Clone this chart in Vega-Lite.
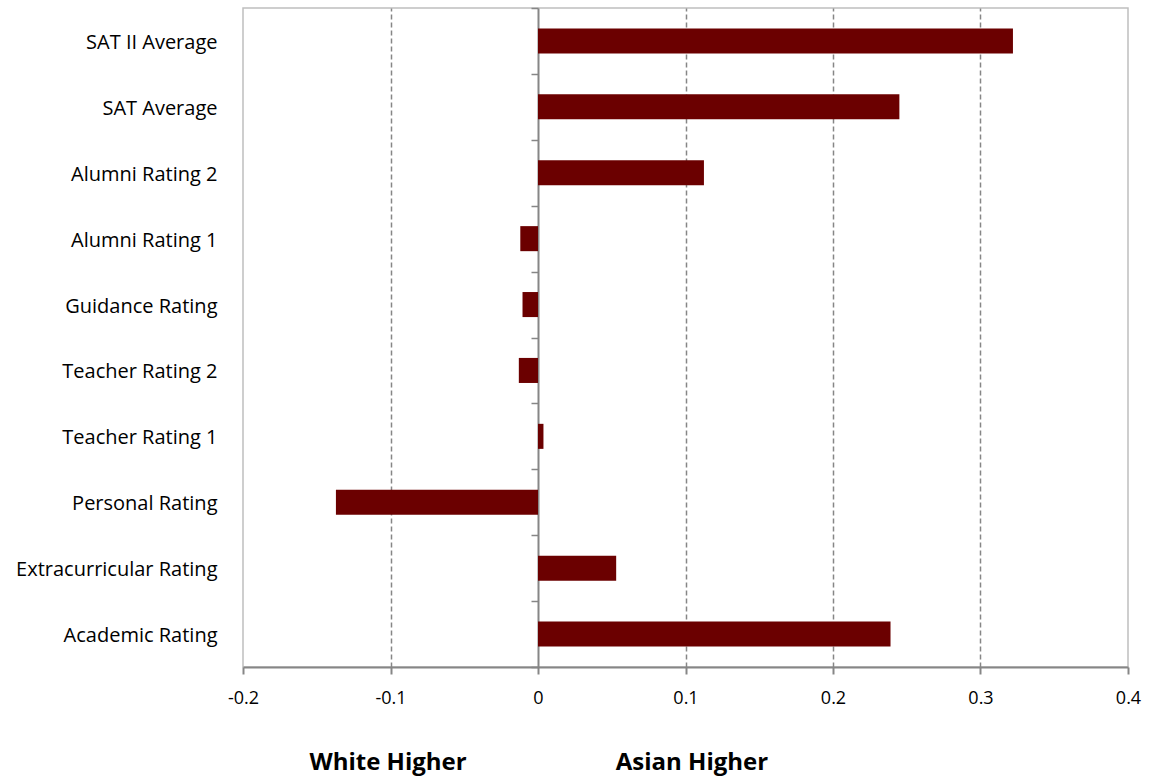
{
  "$schema": "https://vega.github.io/schema/vega-lite/v6.json",
  "width": 885,
  "height": 659,
  "autosize": "none",
  "padding": {"left": 243, "top": 8, "right": 24, "bottom": 109},
  "background": "white",
  "config": {
    "view": {"stroke": "#bfbfbf", "strokeWidth": 1.5},
    "font": "Open Sans"
  },
  "data": {
    "values": [
      {"measure": "SAT II Average", "diff": 0.322},
      {"measure": "SAT Average", "diff": 0.245},
      {"measure": "Alumni Rating 2", "diff": 0.1125},
      {"measure": "Alumni Rating 1", "diff": -0.012},
      {"measure": "Guidance Rating", "diff": -0.0105},
      {"measure": "Teacher Rating 2", "diff": -0.013},
      {"measure": "Teacher Rating 1", "diff": 0.0037},
      {"measure": "Personal Rating", "diff": -0.137},
      {"measure": "Extracurricular Rating", "diff": 0.053},
      {"measure": "Academic Rating", "diff": 0.239}
    ]
  },
  "layer": [
    {
      "mark": {"type": "bar", "color": "#6b0000"},
      "encoding": {
        "y": {
          "field": "measure",
          "type": "nominal",
          "sort": null,
          "scale": {"paddingInner": 0.62, "paddingOuter": 0.31},
          "axis": {
            "title": null,
            "orient": "left",
            "domain": false,
            "ticks": false,
            "labelFontSize": 20,
            "labelColor": "black",
            "labelPadding": 26,
            "labelOffset": 2,
            "labelLimit": 300
          }
        },
        "x": {
          "field": "diff",
          "type": "quantitative",
          "scale": {"domain": [-0.2, 0.4], "nice": false, "zero": false},
          "axis": {
            "title": null,
            "values": [-0.2, -0.1, 0, 0.1, 0.2, 0.3, 0.4],
            "labelExpr": "abs(datum.value) < 0.001 ? '0' : replace(datum.label, '\u2212', '-')",
            "labelFontSize": 18,
            "labelColor": "black",
            "labelPadding": 15,
            "labelFlush": false,
            "tickSize": 7,
            "tickColor": "#868686",
            "tickWidth": 2,
            "domainColor": "#868686",
            "domainWidth": 2,
            "grid": true,
            "gridColor": "#868686",
            "gridWidth": 1.5,
            "gridDash": [5, 3],
            "gridOpacity": {
              "condition": {"test": "abs(datum.value) < 0.001 || datum.value < -0.19 || datum.value > 0.39", "value": 0},
              "value": 1
            }
          }
        }
      }
    },
    {
      "mark": {"type": "bar", "opacity": 0},
      "encoding": {
        "y": {
          "field": "measure",
          "type": "nominal",
          "sort": null,
          "scale": {"paddingInner": 0, "paddingOuter": 0},
          "axis": {
            "title": null,
            "orient": "left",
            "offset": -295,
            "labels": false,
            "domain": true,
            "domainColor": "#868686",
            "domainWidth": 2,
            "ticks": true,
            "tickBand": "extent",
            "tickSize": 7,
            "tickColor": "#868686",
            "tickWidth": 1.5,
            "grid": false
          }
        },
        "x": {
          "field": "diff",
          "type": "quantitative",
          "axis": {
            "title": null,
            "orient": "bottom",
            "values": [-0.102, 0.104],
            "labelExpr": "datum.value < 0 ? 'White Higher' : 'Asian Higher'",
            "labelFontSize": 24,
            "labelFontWeight": "bold",
            "labelColor": "black",
            "labelPadding": 83,
            "labelFlush": false,
            "domain": false,
            "ticks": false,
            "grid": false
          }
        }
      }
    }
  ],
  "resolve": {
    "scale": {"y": "independent"},
    "axis": {"x": "independent", "y": "independent"}
  }
}
